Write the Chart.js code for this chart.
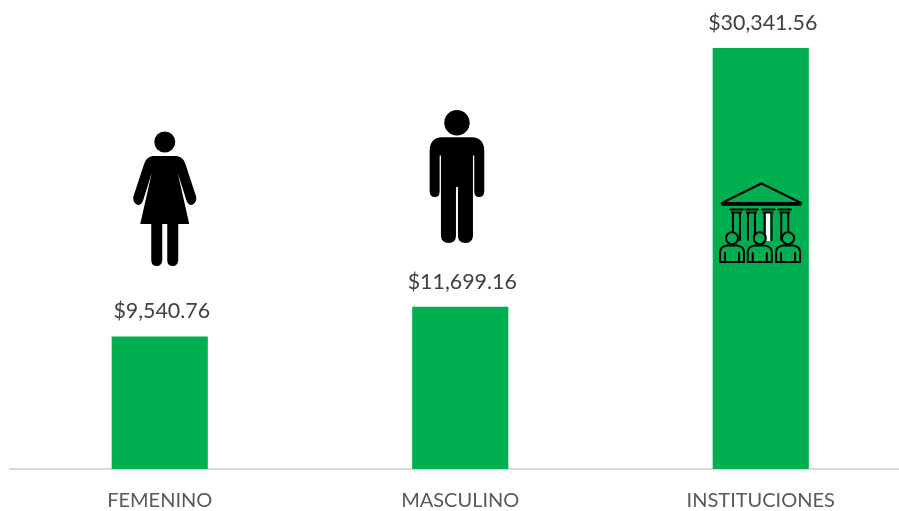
<!DOCTYPE html>
<html><head><meta charset="utf-8">
<script src="https://cdn.jsdelivr.net/npm/chart.js@4"></script>
<style>html,body{margin:0;padding:0;background:#fff;overflow:hidden}#w{width:899px;height:511px;overflow:hidden}canvas{display:block}</style>
</head><body><div id="w"><canvas id="c" width="911" height="511"></canvas></div>
<script>
const categories = ["FEMENINO", "MASCULINO", "INSTITUCIONES"];
const values = [9540.76, 11699.16, 30341.56];
const valueLabels = ["$9,540.76", "$11,699.16", "$30,341.56"];
const FONT = 'Lato, "Open Sans", sans-serif';

function woman(g,cx){
  g.save();g.translate(cx+5,0);g.fillStyle='#000';
  g.beginPath();g.arc(0,142,10.5,0,7);g.fill();
  g.beginPath();
  g.moveTo(-12,156);g.lineTo(12,156);
  g.quadraticCurveTo(19,157,21,165);
  g.lineTo(31.5,197);
  g.quadraticCurveTo(32,203,27,205);
  g.quadraticCurveTo(23,205,21.5,200);
  g.lineTo(13,173);g.lineTo(24.5,224);
  g.lineTo(13.5,224);g.lineTo(13.5,260);
  g.quadraticCurveTo(13,266,8,266);g.quadraticCurveTo(2.5,266,2.5,260);
  g.lineTo(2.5,224);g.lineTo(-2.5,224);g.lineTo(-2.5,260);
  g.quadraticCurveTo(-3,266,-8,266);g.quadraticCurveTo(-13.5,266,-13.5,260);
  g.lineTo(-13.5,224);g.lineTo(-24.5,224);g.lineTo(-13,173);
  g.lineTo(-21.5,200);
  g.quadraticCurveTo(-23,205,-27,205);
  g.quadraticCurveTo(-32,203,-31.5,197);
  g.lineTo(-21,165);
  g.quadraticCurveTo(-19,157,-12,156);
  g.closePath();g.fill();
  g.restore();
}
function man(g,cx){
  g.save();g.translate(cx-3.3,0);g.fillStyle='#000';
  g.beginPath();g.arc(0,122.7,12.7,0,7);g.fill();
  g.beginPath();
  g.moveTo(-15,137.3);g.lineTo(15,137.3);
  g.quadraticCurveTo(27.3,138,27.3,151);
  g.lineTo(27.3,191.5);
  g.quadraticCurveTo(27,197,22,197);g.quadraticCurveTo(17.5,197,17.3,191.5);
  g.lineTo(17.3,155.5);g.lineTo(16,155.5);g.lineTo(16,236);
  g.quadraticCurveTo(15.5,243,8.5,243);g.quadraticCurveTo(1,243,1,236);
  g.lineTo(1,187);g.lineTo(-1,187);g.lineTo(-1,236);
  g.quadraticCurveTo(-1,243,-8.5,243);g.quadraticCurveTo(-15.5,243,-16,236);
  g.lineTo(-16,155.5);g.lineTo(-17.3,155.5);g.lineTo(-17.3,191.5);
  g.quadraticCurveTo(-17.5,197,-22,197);g.quadraticCurveTo(-27,197,-27.3,191.5);
  g.lineTo(-27.3,151);
  g.quadraticCurveTo(-27.3,138,-15,137.3);
  g.closePath();g.fill();
  g.restore();
}
function institution(g,cx){
  g.save();g.translate(cx,0);g.strokeStyle='#000';g.lineWidth=2;g.lineJoin='round';g.lineCap='round';
  // roof
  g.beginPath();g.moveTo(0.7,183.5);g.lineTo(-39,203);g.lineTo(40.5,203);g.closePath();g.stroke();
  g.lineWidth=2.6;
  g.beginPath();g.moveTo(-38,204.5);g.lineTo(39.5,204.5);g.stroke();
  // columns
  [-24.3,-9.3,7.3,24].forEach((x,i)=>{
    if(i===2){g.fillStyle='#fff';g.fillRect(x-2,213,4,28);}
    g.lineWidth=2;
    g.beginPath();g.moveTo(x-6.5,209.5);g.lineTo(x+6.5,209.5);g.stroke();
    g.beginPath();g.moveTo(x-4.5,212.5);g.lineTo(x+4.5,212.5);g.stroke();
    g.beginPath();g.moveTo(x-3.5,213);g.lineTo(x-3.5,240);
    g.moveTo(x+3.5,213);g.lineTo(x+3.5,240);g.stroke();
  });
  // people
  [-28.7,-1,27.3].forEach(x=>{
    g.fillStyle='#00B050';g.lineWidth=2;
    g.beginPath();g.arc(x,238.3,6,0,7);g.fill();g.stroke();
    g.beginPath();
    g.moveTo(x-12,262);g.lineTo(x-12,252);
    g.quadraticCurveTo(x-12,246.5,x-5,245.5);
    g.lineTo(x+5,245.5);
    g.quadraticCurveTo(x+12,246.5,x+12,252);
    g.lineTo(x+12,262);g.closePath();g.fill();g.stroke();
    g.beginPath();g.moveTo(x-7,262);g.lineTo(x-7,253);g.moveTo(x+7,262);g.lineTo(x+7,253);g.stroke();
  });
  g.restore();
}

const overlay = {
  id:'overlay',
  afterDatasetsDraw(chart){
    const g=chart.ctx, meta=chart.getDatasetMeta(0);
    g.save();
    g.font='21.4px '+FONT;g.fillStyle='#404040';g.textAlign='center';g.textBaseline='middle';
    meta.data.forEach((b,i)=>g.fillText(valueLabels[i],b.x+2,b.y-25));
    woman(g,meta.data[0].x);
    man(g,meta.data[1].x);
    institution(g,meta.data[2].x);
    g.restore();
  }
};

new Chart(document.getElementById('c'),{
  type:'bar',
  data:{labels:categories,datasets:[{data:values,backgroundColor:'#00B050',barPercentage:0.32,categoryPercentage:1,borderWidth:0}]},
  options:{
    responsive:false,animation:false,
    layout:{padding:{left:9.5,right:0,top:11,bottom:0}},
    plugins:{legend:{display:false},tooltip:{enabled:false}},
    scales:{
      y:{display:false,min:0,max:33000},
      x:{
        afterFit(s){s.height=42;},
        grid:{display:false,drawTicks:false},
        border:{display:true,color:'#d9d9d9',width:2},
        ticks:{color:'#595959',font:{family:FONT,size:20},padding:20,maxRotation:0,autoSkip:false}
      }
    }
  },
  plugins:[overlay]
});
</script></body></html>
